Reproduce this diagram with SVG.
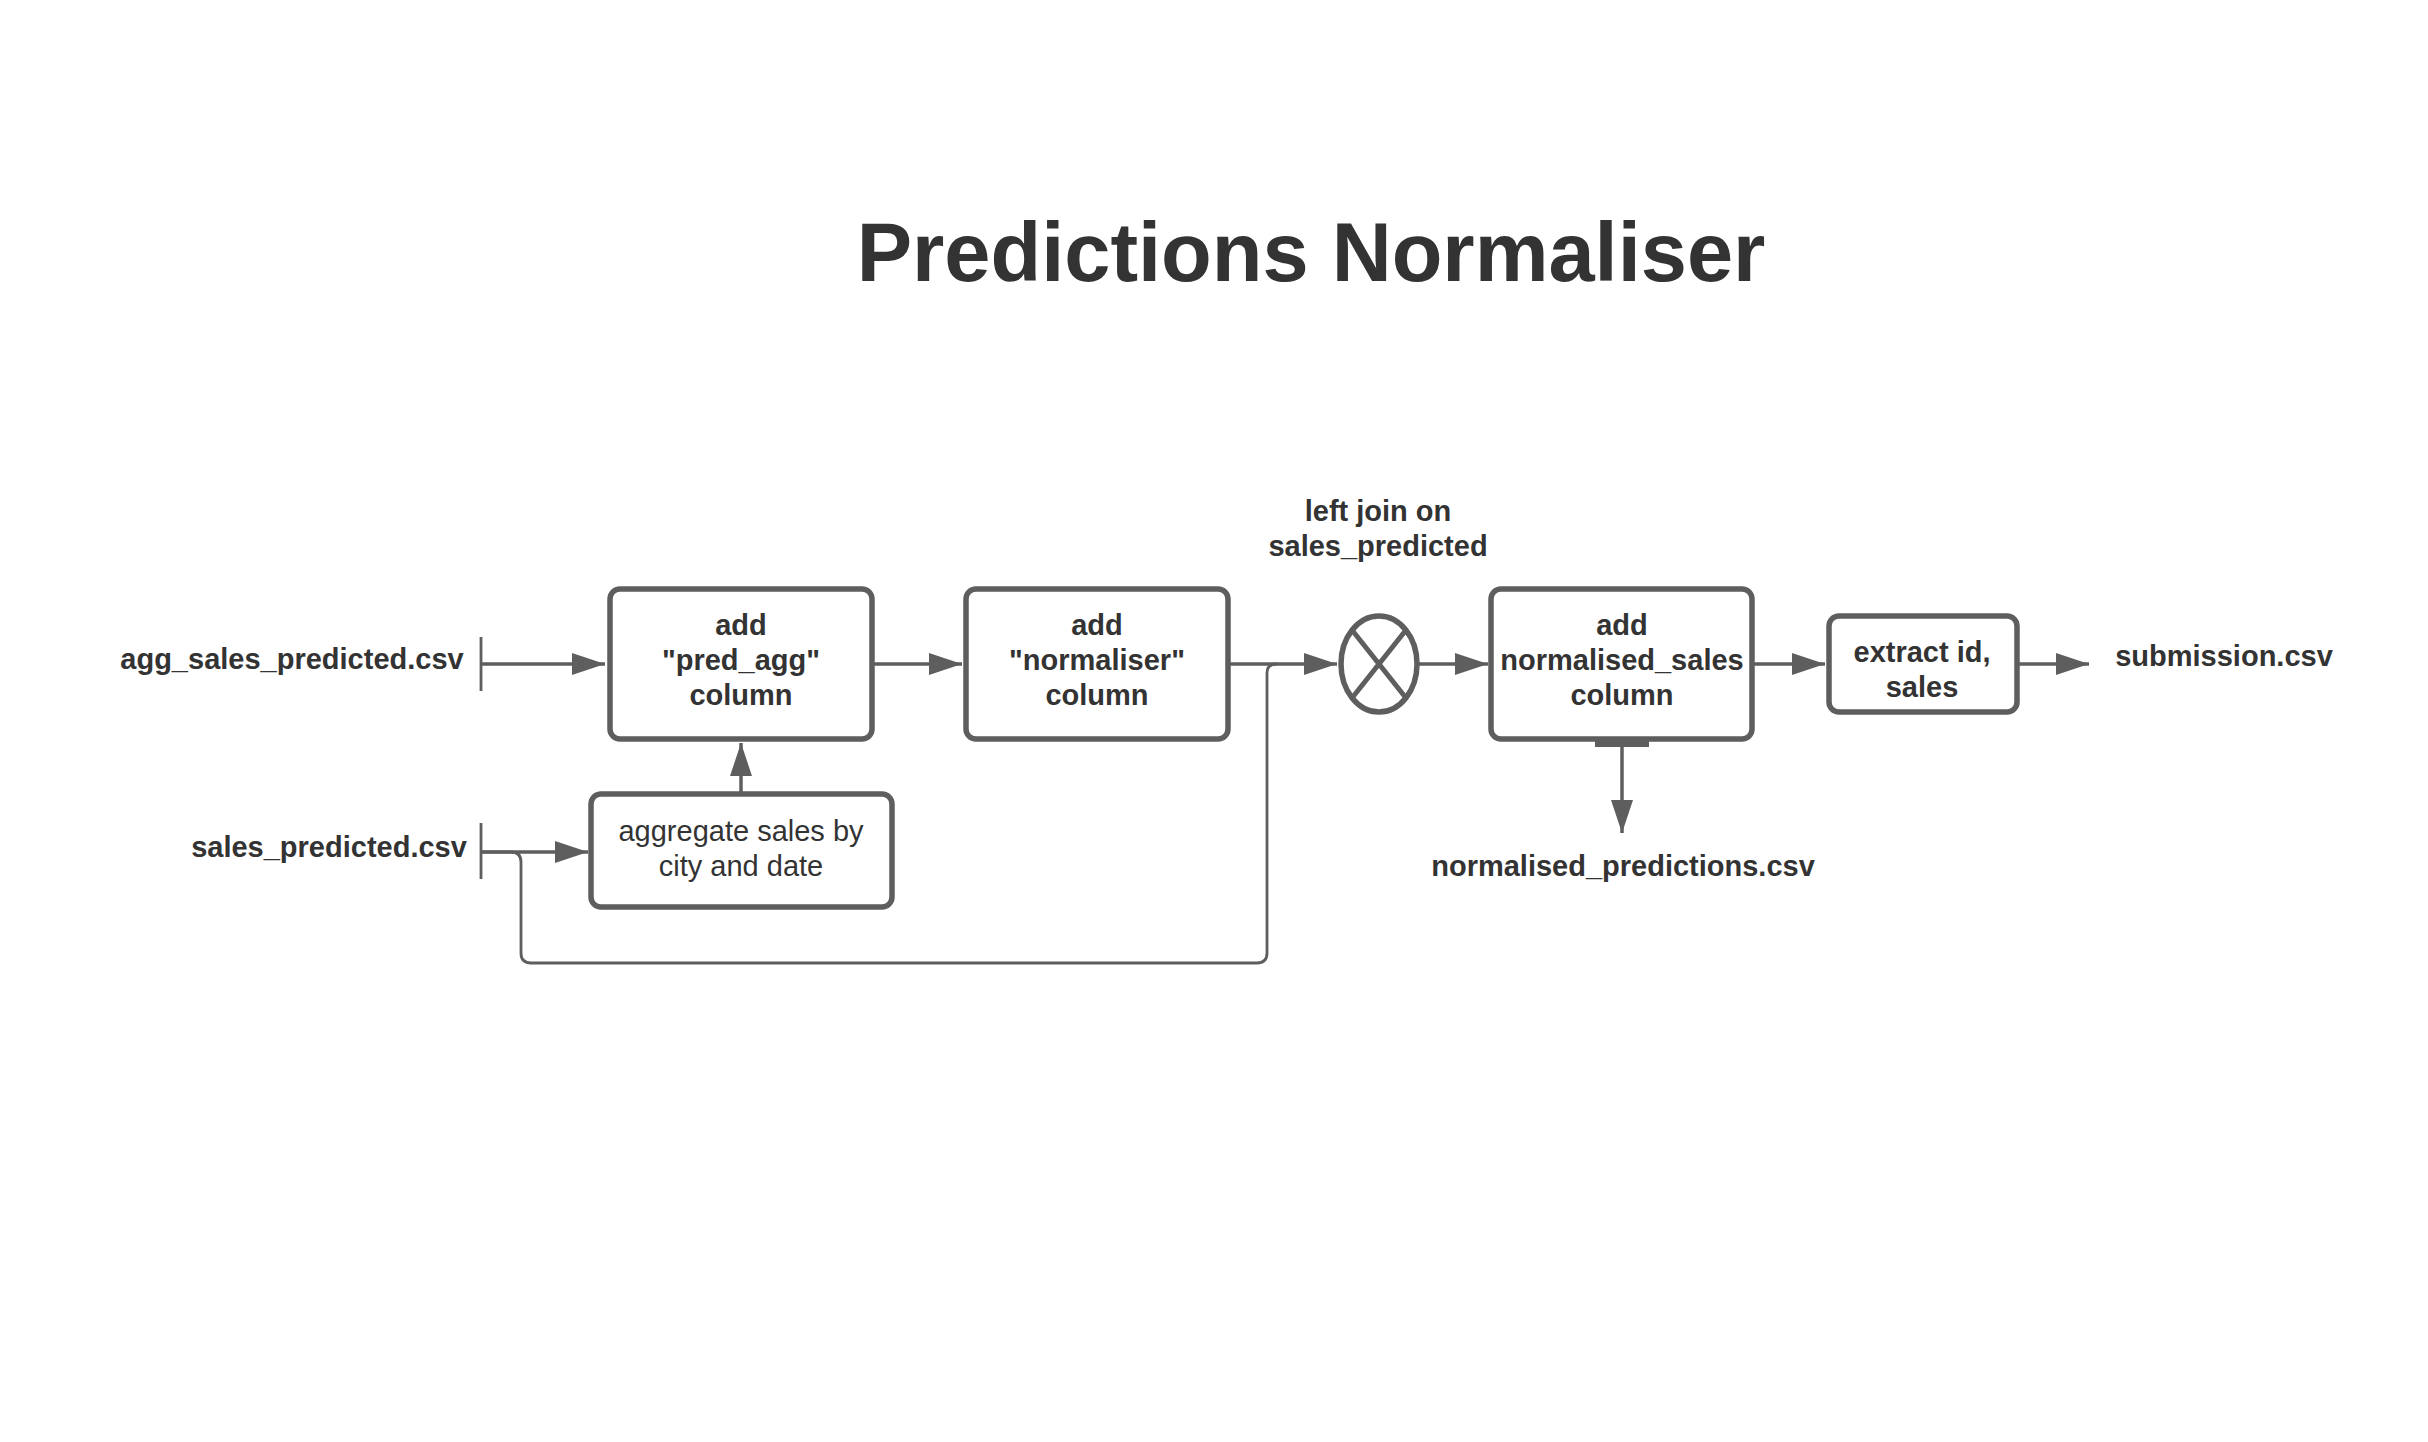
<svg xmlns="http://www.w3.org/2000/svg" width="2428" height="1442" viewBox="0 0 2428 1442">
<style>
.box{fill:#fff;stroke:#5e5e5e;stroke-width:5.5}
.ln{fill:none;stroke:#5e5e5e;stroke-width:3.5}
.thin{fill:none;stroke:#5e5e5e;stroke-width:2.8}
.ah{fill:#5e5e5e}
text{font-family:"Liberation Sans",Arial,sans-serif;fill:#333;font-size:29px;text-anchor:middle}
.b{font-weight:bold}
</style>
<defs>
<marker id="arr" viewBox="0 0 33 22" refX="33" refY="11" markerWidth="33" markerHeight="22" markerUnits="userSpaceOnUse" orient="auto">
<path d="M0,0 L33,11 L0,22 Z" fill="#5e5e5e"/>
</marker>
</defs>
<rect width="2428" height="1442" fill="#fff"/>
<text class="b" x="1311" y="281" style="font-size:83px">Predictions Normaliser</text>

<g id="connectors">
<line class="thin" x1="481" y1="637" x2="481" y2="691"/>
<line class="ln" x1="481" y1="664" x2="605" y2="664" marker-end="url(#arr)"/>
<line class="thin" x1="481" y1="823" x2="481" y2="879"/>
<line class="ln" x1="481" y1="852" x2="588" y2="852" marker-end="url(#arr)"/>
<path class="thin" d="M481 852 H511 Q521 852 521 862 V953 Q521 963 531 963 H1257 Q1267 963 1267 953 V673 Q1267 664 1277 664"/>
<line class="ln" x1="741" y1="793" x2="741" y2="743" marker-end="url(#arr)"/>
<line class="ln" x1="872" y1="664" x2="962" y2="664" marker-end="url(#arr)"/>
<line class="ln" x1="1228" y1="664" x2="1337" y2="664" marker-end="url(#arr)"/>
<line class="ln" x1="1417" y1="664" x2="1488" y2="664" marker-end="url(#arr)"/>
<line class="ln" x1="1752" y1="664" x2="1825" y2="664" marker-end="url(#arr)"/>
<line class="ln" x1="2017" y1="664" x2="2089" y2="664" marker-end="url(#arr)"/>
<line x1="1595" y1="744" x2="1649" y2="744" stroke="#5e5e5e" stroke-width="6"/>
<line class="ln" x1="1622" y1="744" x2="1622" y2="833" marker-end="url(#arr)"/>
</g>

<g id="agg_sales_predicted"><text class="b" x="292" y="669">agg_sales_predicted.csv</text></g>
<g id="sales_predicted"><text class="b" x="329" y="857">sales_predicted.csv</text></g>

<g id="add_pred_agg">
<rect class="box" x="610" y="589" width="262" height="150" rx="10"/>
<text class="b" x="741" y="635">add</text>
<text class="b" x="741" y="670">"pred_agg"</text>
<text class="b" x="741" y="705">column</text>
</g>

<g id="aggregate">
<rect class="box" x="591" y="794" width="301" height="113" rx="10"/>
<text x="741" y="841">aggregate sales by</text>
<text x="741" y="876">city and date</text>
</g>

<g id="add_normaliser">
<rect class="box" x="966" y="589" width="262" height="150" rx="10"/>
<text class="b" x="1097" y="635">add</text>
<text class="b" x="1097" y="670">"normaliser"</text>
<text class="b" x="1097" y="705">column</text>
</g>

<g id="join">
<text class="b" x="1378" y="521">left join on</text>
<text class="b" x="1378" y="556">sales_predicted</text>
<ellipse class="box" cx="1379" cy="664" rx="38" ry="48"/>
<line x1="1352" y1="630" x2="1406" y2="698" stroke="#5e5e5e" stroke-width="5"/>
<line x1="1406" y1="630" x2="1352" y2="698" stroke="#5e5e5e" stroke-width="5"/>
</g>

<g id="add_normalised_sales">
<rect class="box" x="1491" y="589" width="261" height="150" rx="10"/>
<text class="b" x="1622" y="635">add</text>
<text class="b" x="1622" y="670">normalised_sales</text>
<text class="b" x="1622" y="705">column</text>
</g>

<g id="normalised_predictions"><text class="b" x="1623" y="876">normalised_predictions.csv</text></g>

<g id="extract">
<rect class="box" x="1829" y="616" width="188" height="96" rx="10"/>
<text class="b" x="1922" y="662">extract id,</text>
<text class="b" x="1922" y="697">sales</text>
</g>

<g id="submission"><text class="b" x="2224" y="666">submission.csv</text></g>
</svg>
